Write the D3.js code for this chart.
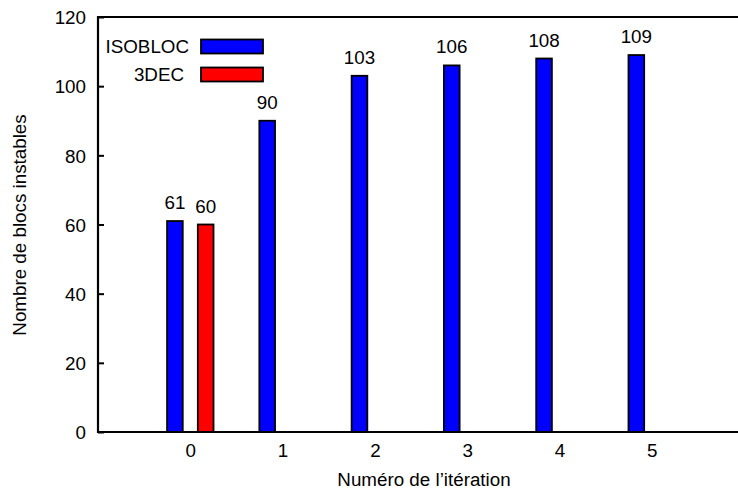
<!DOCTYPE html>
<html><head><meta charset="utf-8">
<script src="https://cdn.jsdelivr.net/npm/d3@7"></script>
<style>body{margin:0;background:#fff}svg{display:block}text{font-family:"Liberation Sans",Arial,Helvetica,sans-serif;fill:#000}</style>
</head><body><svg id="c" width="738" height="495"></svg>
<script>
const iterations = [0, 1, 2, 3, 4, 5];
const isobloc = [61, 90, 103, 106, 108, 109];
const dec3Iter = [0];
const dec3 = [60];
const yTicks = [0, 20, 40, 60, 80, 100, 120];
const seriesNames = ["ISOBLOC", "3DEC"];
const seriesColors = ["#0000ff", "#ff0000"];
const xLabel = "Numéro de l’itération";
const yLabel = "Nombre de blocs instables";

const svg = d3.select("#c");
const m = {l: 98, t: 17, b: 432, r: 744};
const x = d3.scaleLinear().domain([-1, 6]).range([m.l, m.r]);
const y = d3.scaleLinear().domain([0, 120]).range([m.b, m.t]);
const off = 1/6, bw = 0.17;
const fs = 18.8;
const ff = "Liberation Sans, Arial, sans-serif";

// bars
function drawBars(xs, vs, dx, color) {
  const g = svg.append("g");
  xs.forEach((xi, i) => {
    const x0 = x(xi + dx - bw/2), x1 = x(xi + dx + bw/2);
    g.append("rect").attr("x", x0).attr("y", y(vs[i]))
      .attr("width", x1 - x0).attr("height", y(0) - y(vs[i]))
      .attr("fill", color).attr("stroke", "#000").attr("stroke-width", 1.8);
    g.append("text").attr("x", (x0 + x1)/2).attr("y", y(vs[i]) - 12)
      .attr("text-anchor", "middle").attr("font-size", fs).text(vs[i]);
  });
}
drawBars(iterations, isobloc, -off, seriesColors[0]);
drawBars(dec3Iter, dec3, off, seriesColors[1]);

// axes
const yAxis = d3.axisLeft(y).tickValues(yTicks).tickFormat(d3.format("d")).tickSize(-6).tickPadding(12);
const gy = svg.append("g").attr("transform", `translate(${m.l},0)`).call(yAxis);
gy.select(".domain").remove();
gy.selectAll(".tick line").attr("stroke", "#000").attr("stroke-width", 2);
gy.selectAll(".tick text").attr("font-size", fs).attr("font-family", ff).attr("dy", "0.36em");

const xAxis = d3.axisBottom(x).tickValues(iterations).tickFormat(d3.format("d")).tickSize(0).tickPadding(12);
const gx = svg.append("g").attr("transform", `translate(0,${m.b})`).call(xAxis);
gx.select(".domain").remove();
gx.selectAll(".tick text").attr("font-size", fs).attr("font-family", ff).attr("dy", "0.71em");

// frame lines
svg.append("line").attr("x1", m.l).attr("x2", m.r).attr("y1", m.b).attr("y2", m.b).attr("stroke", "#000").attr("stroke-width", 2.2);
svg.append("line").attr("x1", m.l).attr("x2", m.r).attr("y1", m.t).attr("y2", m.t).attr("stroke", "#000").attr("stroke-width", 2.2);
svg.append("line").attr("x1", m.l).attr("x2", m.l).attr("y1", m.t - 1).attr("y2", m.b + 1).attr("stroke", "#000").attr("stroke-width", 2.2);
svg.append("line").attr("x1", m.r).attr("x2", m.r).attr("y1", m.t - 1).attr("y2", m.b + 1).attr("stroke", "#000").attr("stroke-width", 2.2);

// axis labels
svg.append("text").attr("x", (m.l + m.r)/2 + 3).attr("y", 486).attr("text-anchor", "middle").attr("font-size", fs).text(xLabel);
svg.append("text").attr("transform", "translate(26,225) rotate(-90)").attr("text-anchor", "middle").attr("font-size", fs).text(yLabel);

// legend
const legX = [189, 184];
seriesNames.forEach((n, i) => {
  const cy = 46.5 + i * 28;
  svg.append("text").attr("x", legX[i]).attr("y", cy).attr("dy", "0.36em").attr("text-anchor", "end").attr("font-size", fs).text(n);
  svg.append("rect").attr("x", 201).attr("y", cy - 7).attr("width", 62).attr("height", 14)
    .attr("fill", seriesColors[i]).attr("stroke", "#000").attr("stroke-width", 1.8);
});
</script></body></html>
